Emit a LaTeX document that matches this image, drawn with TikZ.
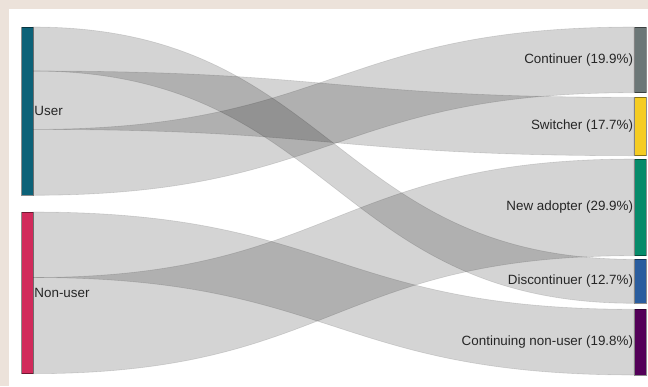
\documentclass[tikz,border=0pt]{standalone}
\usepackage{fontspec}
\setmainfont{Liberation Sans}
\usepackage{xcolor}
\usetikzlibrary{positioning}

\definecolor{pagebeige}{RGB}{236,226,218}
\definecolor{userteal}{RGB}{13,98,120}
\definecolor{nonusercrimson}{RGB}{209,42,91}
\definecolor{contgray}{RGB}{108,119,119}
\definecolor{switchyellow}{RGB}{245,204,34}
\definecolor{adoptgreen}{RGB}{6,139,106}
\definecolor{discblue}{RGB}{42,93,158}
\definecolor{cnupurple}{RGB}{83,0,88}

\begin{document}
\begin{tikzpicture}[x=1pt, y=-1pt,
    every node/.style={font=\fontsize{13.4}{16}\selectfont, text=black!85},
    bar/.style={draw=black, draw opacity=0.45, line width=0.5pt, minimum width=11.5pt, inner sep=0pt},
    flow/.style={fill=black, fill opacity=0.17, draw=black, draw opacity=0.12, line width=0.6pt}]
    \useasboundingbox (0,0) rectangle (648,386);
    \fill[pagebeige] (0,0) rectangle (648,386);
    \fill[white] (9,8.5) rectangle (648,386);

    % flows, left bar edge x=33 to right bar edge x=634
    \path[flow] (33,27) .. controls (333.5,27) and (333.5,259.3) .. (634,259.3)
        -- (634,303.3) .. controls (333.5,303.3) and (333.5,71) .. (33,71) -- cycle;
    \path[flow] (33,71) .. controls (333.5,71) and (333.5,97.3) .. (634,97.3)
        -- (634,155.7) .. controls (333.5,155.7) and (333.5,129.4) .. (33,129.4) -- cycle;
    \path[flow] (33,129.4) .. controls (333.5,129.4) and (333.5,27) .. (634,27)
        -- (634,92.7) .. controls (333.5,92.7) and (333.5,195.3) .. (33,195.3) -- cycle;
    \path[flow] (33,212) .. controls (333.5,212) and (333.5,309.3) .. (634,309.3)
        -- (634,375) .. controls (333.5,375) and (333.5,277.5) .. (33,277.5) -- cycle;
    \path[flow] (33,277.5) .. controls (333.5,277.5) and (333.5,159) .. (634,159)
        -- (634,255.7) .. controls (333.5,255.7) and (333.5,373.7) .. (33,373.7) -- cycle;

    % left bars
    \node[bar, fill=userteal, minimum height=168.3pt] (user) at (27.25,111.15) {};
    \node[bar, fill=nonusercrimson, minimum height=161.7pt] (nonuser) at (27.25,292.85) {};

    % right bars
    \node[bar, fill=contgray, minimum height=65.7pt] (cont) at (640.25,59.85) {};
    \node[bar, fill=switchyellow, minimum height=58.4pt] (switch) at (640.25,126.5) {};
    \node[bar, fill=adoptgreen, minimum height=96.7pt] (adopt) at (640.25,207.35) {};
    \node[bar, fill=discblue, minimum height=44pt] (disc) at (640.25,281.3) {};
    \node[bar, fill=cnupurple, minimum height=65.7pt] (cnu) at (640.25,342.15) {};

    % labels
    \node[right=1pt of user, inner sep=0pt] (userlbl) {User};
    \node[right=1pt of nonuser, inner sep=0pt] (nonuserlbl) {Non-user};
    \node[left=1pt of cont, inner sep=0pt] (contlbl) {Continuer (19.9\%)};
    \node[left=1pt of switch, inner sep=0pt] (switchlbl) {Switcher (17.7\%)};
    \node[left=1pt of adopt, inner sep=0pt] (adoptlbl) {New adopter (29.9\%)};
    \node[left=1pt of disc, inner sep=0pt] (disclbl) {Discontinuer (12.7\%)};
    \node[left=1pt of cnu, inner sep=0pt] (cnulbl) {Continuing non-user (19.8\%)};
\end{tikzpicture}
\end{document}
